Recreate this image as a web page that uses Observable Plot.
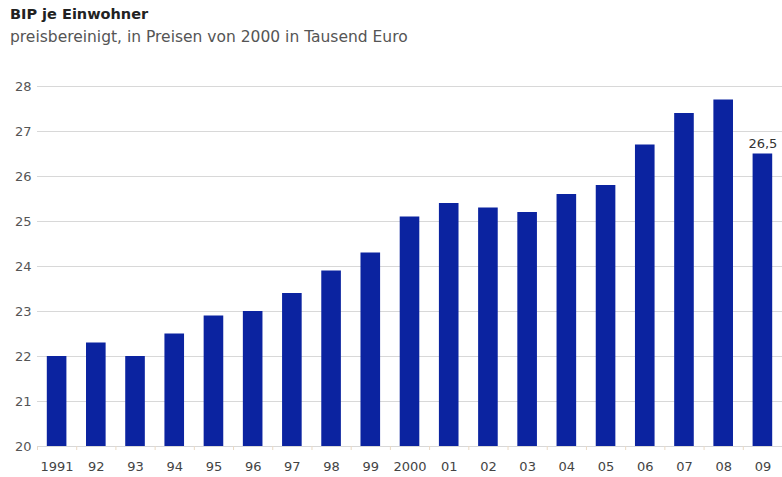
<!DOCTYPE html>
<html>
<head>
<meta charset="utf-8">
<script src="https://cdn.jsdelivr.net/npm/d3@7"></script>
<script src="https://cdn.jsdelivr.net/npm/@observablehq/plot@0.6"></script>
<style>
  body { margin: 0; background: #fff; font-family: "DejaVu Sans", sans-serif; }
  #wrap { position: relative; width: 782px; height: 477px; overflow: hidden; }
  #title { position: absolute; left: 10px; top: 7px; font-size: 14.5px; line-height: 15px; font-weight: bold; color: #222; }
  #subtitle { position: absolute; left: 10px; top: 29px; font-size: 15.5px; line-height: 16px; color: #555; }
  #chart { position: absolute; left: 0; top: 60px; }
</style>
</head>
<body>
<div id="wrap">
  <div id="title">BIP je Einwohner</div>
  <div id="subtitle">preisbereinigt, in Preisen von 2000 in Tausend Euro</div>
  <div id="chart"></div>
</div>
<script>
const years = ["1991","92","93","94","95","96","97","98","99","2000","01","02","03","04","05","06","07","08","09"];
const values = [22.0, 22.3, 22.0, 22.5, 22.9, 23.0, 23.4, 23.9, 24.3, 25.1, 25.4, 25.3, 25.2, 25.6, 25.8, 26.7, 27.4, 27.7, 26.5];
const yTicks = [20, 21, 22, 23, 24, 25, 26, 27, 28];
const labelIndex = [18];
const labelText = ["26,5"];

const data = years.map((y, i) => ({year: y, value: values[i]}));
const labels = labelIndex.map((i, k) => ({year: years[i], value: values[i], text: labelText[k]}));

const width = 782, height = 417;
const step = (width - 37) / years.length;

const chart = Plot.plot({
  width, height,
  marginLeft: 37, marginRight: 0, marginTop: 26, marginBottom: 31,
  style: {fontFamily: "DejaVu Sans, sans-serif", fontSize: "13px", color: "#555"},
  x: {domain: years, paddingInner: 0.5, paddingOuter: 0.25, round: false, axis: null, label: null},
  y: {domain: [20, 28], axis: null, label: null},
  marks: [
    Plot.gridY(yTicks, {stroke: "#d8d8d8", strokeOpacity: 1, strokeWidth: 1}),
    Plot.axisY(yTicks, {tickSize: 0, tickPadding: 6, fill: "#555", fontSize: 13, label: null}),
    Plot.barY(data, {x: "year", y1: 20, y2: "value", fill: "#0b23a0"}),
    Plot.axisX({tickSize: 4, dx: -step / 2, stroke: "#ead9c4", tickFormat: () => "", label: null}),
    Plot.axisX({tickSize: 0, tickPadding: 15, fill: "#444", fontSize: 13, label: null}),
    Plot.text(labels, {x: "year", y: "value", text: "text", dy: -10, fill: "#333", fontSize: 13})
  ]
});
document.getElementById("chart").appendChild(chart);
</script>
</body>
</html>
